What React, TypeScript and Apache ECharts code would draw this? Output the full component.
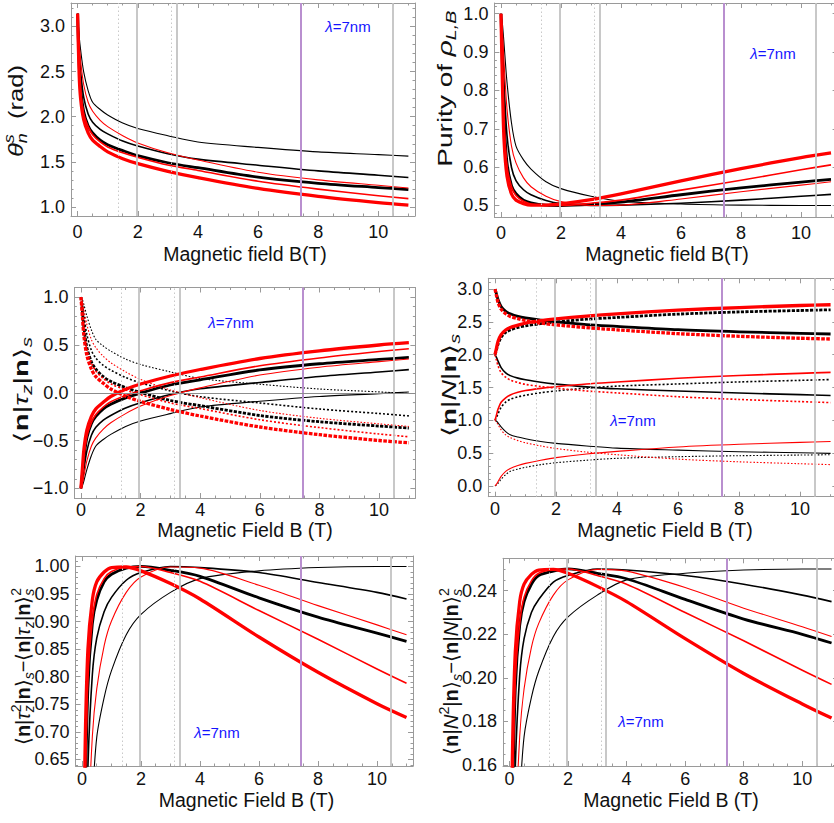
import React, { useEffect, useRef } from "react";
import * as echarts from "echarts";

// ---------------- data ----------------
const B_FIELD = [0, 0.05, 0.1, 0.2, 0.35, 0.5, 0.75, 1, 1.5, 2, 3, 4, 6, 8, 10, 11];

// panel 1 : theta_n^s (rad)
const thetaBlackThin = [3.142, 2.9, 2.74, 2.5, 2.29, 2.16, 2.08, 2.02, 1.93, 1.87, 1.79, 1.72, 1.66, 1.61, 1.58, 1.563];
const thetaBlackMid = [3.142, 2.72, 2.5, 2.22, 2.03, 1.94, 1.86, 1.81, 1.73, 1.675, 1.59, 1.53, 1.463, 1.4, 1.352, 1.326];
const thetaBlackThick = [3.142, 2.58, 2.32, 2.06, 1.9, 1.82, 1.74, 1.69, 1.625, 1.568, 1.49, 1.435, 1.33, 1.262, 1.215, 1.193];
const thetaRedThin = [3.142, 2.82, 2.62, 2.36, 2.16, 2.06, 1.96, 1.89, 1.79, 1.71, 1.6, 1.52, 1.385, 1.3, 1.24, 1.211];
const thetaRedMid = [3.142, 2.55, 2.29, 2.04, 1.89, 1.8, 1.72, 1.665, 1.6, 1.55, 1.465, 1.405, 1.285, 1.198, 1.125, 1.093];
const thetaRedThick = [3.142, 2.48, 2.2, 1.97, 1.82, 1.74, 1.67, 1.61, 1.535, 1.48, 1.395, 1.325, 1.205, 1.117, 1.048, 1.02];

// panel 2 : purity
const purBlackThin = [1.0, 0.971, 0.923, 0.821, 0.715, 0.655, 0.619, 0.595, 0.562, 0.544, 0.524, 0.511, 0.504, 0.501, 0.5, 0.5];
const purBlackMid = [1.0, 0.916, 0.821, 0.683, 0.599, 0.565, 0.541, 0.528, 0.513, 0.505, 0.5, 0.501, 0.506, 0.514, 0.524, 0.529];
const purBlackThick = [1.0, 0.858, 0.732, 0.611, 0.552, 0.531, 0.514, 0.507, 0.501, 0.5, 0.503, 0.509, 0.528, 0.546, 0.561, 0.568];
const purRedThin = [1.0, 0.95, 0.876, 0.752, 0.655, 0.611, 0.572, 0.549, 0.524, 0.51, 0.5, 0.501, 0.517, 0.536, 0.553, 0.562];
const purRedMid = [1.0, 0.844, 0.717, 0.603, 0.549, 0.526, 0.511, 0.504, 0.5, 0.5, 0.506, 0.514, 0.54, 0.566, 0.593, 0.606];
const purRedThick = [1.0, 0.811, 0.673, 0.576, 0.53, 0.514, 0.505, 0.501, 0.501, 0.504, 0.515, 0.53, 0.564, 0.596, 0.625, 0.637];

// panel 3 : <n|tau_z|n>_s  (solid rising, dotted falling)
const tzUpBlackThin = [-1, -0.971, -0.92, -0.801, -0.656, -0.557, -0.488, -0.435, -0.352, -0.295, -0.218, -0.149, -0.089, -0.039, -0.009, 0.008];
const tzUpBlackMid = [-1, -0.912, -0.801, -0.605, -0.444, -0.361, -0.286, -0.237, -0.159, -0.104, -0.019, 0.041, 0.107, 0.17, 0.217, 0.242];
const tzUpBlackThick = [-1, -0.846, -0.681, -0.471, -0.323, -0.247, -0.168, -0.119, -0.054, -0.003, 0.081, 0.135, 0.238, 0.303, 0.348, 0.369];
const tzUpRedThin = [-1, -0.949, -0.867, -0.71, -0.556, -0.471, -0.38, -0.314, -0.218, -0.139, -0.029, 0.051, 0.185, 0.267, 0.325, 0.352];
const tzUpRedMid = [-1, -0.83, -0.659, -0.453, -0.314, -0.227, -0.149, -0.094, -0.029, 0.021, 0.106, 0.165, 0.282, 0.364, 0.431, 0.46];
const tzUpRedThick = [-1, -0.789, -0.589, -0.389, -0.247, -0.168, -0.099, -0.039, 0.036, 0.091, 0.175, 0.243, 0.358, 0.438, 0.499, 0.523];
const tzDnBlackThin = [1, 0.971, 0.92, 0.801, 0.656, 0.557, 0.488, 0.435, 0.352, 0.295, 0.218, 0.149, 0.089, 0.039, 0.009, -0.008];
const tzDnBlackMid = [1, 0.912, 0.801, 0.605, 0.444, 0.361, 0.286, 0.237, 0.159, 0.104, 0.019, -0.041, -0.107, -0.17, -0.217, -0.242];
const tzDnBlackThick = [1, 0.846, 0.681, 0.471, 0.323, 0.247, 0.168, 0.119, 0.054, 0.003, -0.081, -0.135, -0.238, -0.303, -0.348, -0.369];
const tzDnRedThin = [1, 0.949, 0.867, 0.71, 0.556, 0.471, 0.38, 0.314, 0.218, 0.139, 0.029, -0.051, -0.185, -0.267, -0.325, -0.352];
const tzDnRedMid = [1, 0.83, 0.659, 0.453, 0.314, 0.227, 0.149, 0.094, 0.029, -0.021, -0.106, -0.165, -0.282, -0.364, -0.431, -0.46];
const tzDnRedThick = [1, 0.789, 0.589, 0.389, 0.247, 0.168, 0.099, 0.039, -0.036, -0.091, -0.175, -0.243, -0.358, -0.438, -0.499, -0.523];

// panel 4 : <n|N|n>_s
const nA_blackThick = [3.0, 2.923, 2.841, 2.736, 2.662, 2.624, 2.584, 2.56, 2.527, 2.502, 2.46, 2.433, 2.381, 2.349, 2.326, 2.316];
const nB_redThickDot = [3.0, 2.895, 2.795, 2.695, 2.624, 2.584, 2.55, 2.52, 2.482, 2.455, 2.413, 2.379, 2.321, 2.281, 2.251, 2.239];
const nC_redThick = [2.0, 2.106, 2.206, 2.306, 2.377, 2.416, 2.451, 2.481, 2.518, 2.546, 2.588, 2.622, 2.679, 2.719, 2.75, 2.762];
const nD_blackThickDot = [2.0, 2.077, 2.16, 2.265, 2.339, 2.377, 2.416, 2.441, 2.473, 2.499, 2.541, 2.568, 2.619, 2.652, 2.674, 2.685];
const nE_blackMid = [2.0, 1.956, 1.901, 1.803, 1.722, 1.681, 1.643, 1.619, 1.58, 1.552, 1.51, 1.48, 1.447, 1.415, 1.392, 1.379];
const nF_redMidDot = [2.0, 1.915, 1.83, 1.727, 1.657, 1.614, 1.575, 1.547, 1.515, 1.49, 1.447, 1.418, 1.359, 1.318, 1.285, 1.27];
const nG_redMid = [1.0, 1.085, 1.171, 1.274, 1.343, 1.387, 1.426, 1.453, 1.486, 1.511, 1.553, 1.583, 1.641, 1.682, 1.716, 1.73];
const nH_blackMidDot = [1.0, 1.044, 1.1, 1.198, 1.278, 1.32, 1.357, 1.382, 1.421, 1.448, 1.491, 1.521, 1.554, 1.585, 1.609, 1.621];
const nI_blackThin = [1.0, 0.986, 0.96, 0.901, 0.828, 0.779, 0.744, 0.718, 0.676, 0.648, 0.609, 0.575, 0.545, 0.52, 0.505, 0.496];
const nJ_redThinDot = [1.0, 0.975, 0.934, 0.855, 0.778, 0.736, 0.69, 0.657, 0.609, 0.57, 0.515, 0.475, 0.408, 0.367, 0.338, 0.324];
const nK_redThin = [0, 0.026, 0.067, 0.145, 0.222, 0.265, 0.31, 0.343, 0.391, 0.431, 0.486, 0.526, 0.593, 0.634, 0.663, 0.676];
const nL_blackThinDot = [0, 0.015, 0.04, 0.1, 0.172, 0.222, 0.256, 0.283, 0.324, 0.353, 0.391, 0.42, 0.445, 0.46, 0.47, 0.475];

// panel 5 : variance of tau_z
const vtBlackThin = [0, 0.057, 0.154, 0.358, 0.57, 0.69, 0.762, 0.811, 0.876, 0.913, 0.953, 0.978, 0.992, 0.998, 1.0, 1.0];
const vtBlackMid = [0, 0.168, 0.358, 0.634, 0.803, 0.87, 0.918, 0.944, 0.975, 0.989, 1.0, 0.998, 0.989, 0.971, 0.953, 0.941];
const vtBlackThick = [0, 0.284, 0.536, 0.778, 0.896, 0.939, 0.972, 0.986, 0.997, 1.0, 0.993, 0.982, 0.943, 0.908, 0.879, 0.864];
const vtRedThin = [0, 0.099, 0.248, 0.496, 0.691, 0.778, 0.856, 0.901, 0.953, 0.981, 0.999, 0.997, 0.966, 0.929, 0.894, 0.876];
const vtRedMid = [0, 0.311, 0.566, 0.795, 0.901, 0.949, 0.978, 0.991, 0.999, 1.0, 0.989, 0.973, 0.92, 0.868, 0.814, 0.788];
const vtRedThick = [0, 0.377, 0.653, 0.849, 0.939, 0.972, 0.99, 0.998, 0.999, 0.992, 0.969, 0.941, 0.872, 0.808, 0.751, 0.726];

// panel 6 : variance of N
const vnBlackThin = [0, 0.014, 0.039, 0.09, 0.143, 0.173, 0.191, 0.203, 0.219, 0.228, 0.238, 0.245, 0.248, 0.2495, 0.25, 0.25];
const vnBlackMid = [0, 0.042, 0.09, 0.159, 0.201, 0.218, 0.23, 0.236, 0.244, 0.247, 0.25, 0.2495, 0.247, 0.243, 0.238, 0.235];
const vnBlackThick = [0, 0.071, 0.134, 0.195, 0.224, 0.235, 0.243, 0.247, 0.249, 0.25, 0.248, 0.2455, 0.236, 0.227, 0.22, 0.216];
const vnRedThin = [0, 0.025, 0.062, 0.124, 0.173, 0.195, 0.214, 0.225, 0.238, 0.245, 0.2498, 0.249, 0.2415, 0.232, 0.2235, 0.219];
const vnRedMid = [0, 0.078, 0.142, 0.199, 0.225, 0.237, 0.2445, 0.248, 0.2498, 0.25, 0.247, 0.243, 0.23, 0.217, 0.2035, 0.197];
const vnRedThick = [0, 0.094, 0.163, 0.212, 0.235, 0.243, 0.2475, 0.2495, 0.2498, 0.248, 0.242, 0.235, 0.218, 0.202, 0.188, 0.1815];

// ticks and reference lines
const X_TICKS = [0, 2, 4, 6, 8, 10];
const Y1_TICKS = [1.0, 1.5, 2.0, 2.5, 3.0];
const Y2_TICKS = [0.5, 0.6, 0.7, 0.8, 0.9, 1.0];
const Y3_TICKS = [-1.0, -0.5, 0, 0.5, 1.0];
const Y4_TICKS = [0, 0.5, 1.0, 1.5, 2.0, 2.5, 3.0];
const Y5_TICKS = [0.65, 0.7, 0.75, 0.8, 0.85, 0.9, 0.95, 1.0];
const Y6_TICKS = [0.16, 0.18, 0.2, 0.22, 0.24];
const MARK_DOTTED = [1.35, 3.12];
const MARK_GRAY = [1.95, 3.3, 10.48];
const MARK_PURPLE = [7.43];

const X_TITLE_1 = "Magnetic field B(T)";
const X_TITLE_2 = "Magnetic Field B (T)";
const LAMBDA = "=7nm";

// ---------------- styles ----------------
const FF = '"Liberation Sans", Arial, Helvetica, sans-serif';
const TXT = "#111111";
const FRAME = "#9a9a9a";
const BLUE = "#1414ff";

const seq = (a: number, b: number, div: number) => {
  const out: number[] = [];
  for (let k = a; k <= b; k++) out.push(k / div);
  return out;
};
const X_MINOR = seq(0, 22, 2);

const STY: Record<string, { color: string; width: number }> = {
  bt: { color: "#000000", width: 1.1 },
  bm: { color: "#000000", width: 1.6 },
  bT: { color: "#000000", width: 2.8 },
  rt: { color: "#ff0000", width: 1.1 },
  rm: { color: "#ff0000", width: 1.6 },
  rT: { color: "#ff0000", width: 3.3 },
};
const DASH: Record<string, number[]> = {
  bt: [1.6, 1.8], rt: [1.6, 1.8], bm: [2, 2], rm: [2, 2], bT: [3.2, 1.4], rT: [3.6, 1.4],
};

const PANELS = [
  { grid: { left: 71, top: 3, width: 344, height: 213 }, y: [0.9, 3.26], ticks: Y1_TICKS, minor: seq(9, 32, 10), dec: 1, xm: 7, xt: X_TITLE_1, xtPos: [245, 254], lam: [348, 26] },
  { grid: { left: 494.4, top: 3, width: 343.2, height: 214 }, y: [0.47, 1.028], ticks: Y2_TICKS, minor: seq(24, 51, 50), dec: 1, xm: 7, xt: X_TITLE_1, xtPos: [667, 254], lam: [773, 53] },
  { grid: { left: 74.4, top: 287.5, width: 341, height: 210.5 }, y: [-1.1, 1.1], ticks: Y3_TICKS, minor: seq(-11, 11, 10), dec: 1, xm: 3, xt: X_TITLE_2, xtPos: [245, 530], lam: [231, 322] },
  { grid: { left: 488.3, top: 278.3, width: 349, height: 218.4 }, y: [-0.165, 3.165], ticks: Y4_TICKS, minor: seq(-1, 31, 10), dec: 1, xm: 3, xt: X_TITLE_2, xtPos: [665, 530], lam: [633, 420] },
  { grid: { left: 75.5, top: 556, width: 337.5, height: 210 }, y: [0.638, 1.019], ticks: Y5_TICKS, minor: seq(64, 101, 100), dec: 2, xm: 4, xt: X_TITLE_2, xtPos: [246.5, 800], lam: [217, 732] },
  { grid: { left: 503, top: 558.3, width: 335, height: 207.7 }, y: [0.1595, 0.2549], ticks: Y6_TICKS, minor: seq(32, 50, 200), dec: 2, xm: 4, xt: X_TITLE_2, xtPos: [671, 800], lam: [641, 721] },
];

// y-axis titles: tokens [style, text, flag]; flag "k" stacks the token above the previous one
const TSTY: Record<string, { size: number; style: string; weight: string; dy: number }> = {
  m: { size: 20, style: "normal", weight: "normal", dy: 0 },
  b: { size: 20, style: "normal", weight: "bold", dy: 0 },
  i: { size: 20, style: "italic", weight: "normal", dy: 0 },
  sub: { size: 14, style: "italic", weight: "normal", dy: 6 },
  sup: { size: 14, style: "italic", weight: "normal", dy: -7 },
  supn: { size: 14, style: "normal", weight: "normal", dy: -7 },
};
type Tok = [string, string, string?];
const braTz: Tok[] = [["m", "⟨"], ["b", "n"], ["m", "|"], ["i", "τ"], ["sub", "z"], ["m", "|"], ["b", "n"], ["m", "⟩"]];
const braTz2: Tok[] = [["m", "⟨"], ["b", "n"], ["m", "|"], ["i", "τ"], ["sub", "z"], ["supn", "2", "k"], ["m", "|"], ["b", "n"], ["m", "⟩"]];
const braN: Tok[] = [["m", "⟨"], ["b", "n"], ["m", "|"], ["i", "N"], ["m", "|"], ["b", "n"], ["m", "⟩"]];
const braN2: Tok[] = [["m", "⟨"], ["b", "n"], ["m", "|"], ["i", "N"], ["supn", "2"], ["m", "|"], ["b", "n"], ["m", "⟩"]];

const Y_TITLES: { cx: number; y0: number; len: number; toks: Tok[] }[] = [
  { cx: 16, y0: 157, len: 92, toks: [["i", "θ"], ["sub", "n"], ["sup", "s", "k"], ["m", "  (rad)"]] },
  { cx: 445, y0: 166.7, len: 156, toks: [["m", "Purity of "], ["i", "ρ"], ["sub", "L,B"]] },
  { cx: 21, y0: 443, len: 106, toks: [...braTz, ["sub", "s"]] },
  { cx: 449.5, y0: 436.7, len: 103, toks: [...braN, ["sub", "s"]] },
  { cx: 22.5, y0: 745, len: 157, toks: [...braTz2, ["sub", "s"], ["m", "−"], ...braTz, ["sub", "s"], ["supn", "2", "k"]] },
  { cx: 450.8, y0: 755, len: 167, toks: [...braN2, ["sub", "s"], ["m", "−"], ...braN, ["sub", "s"], ["supn", "2", "k"]] },
];

function layoutTitle(toks: Tok[]) {
  const ctx = document.createElement("canvas").getContext("2d");
  let x = 0;
  let prevX = 0;
  let prevW = 0;
  const els: any[] = [];
  for (const [s, t, f] of toks) {
    const st = TSTY[s];
    let w = t.length * st.size * 0.55;
    if (ctx) {
      ctx.font = `${st.style} ${st.weight} ${st.size}px ${FF}`;
      w = ctx.measureText(t).width;
    }
    let px: number;
    if (f === "k") {
      px = prevX;
      x = Math.max(prevX + prevW, prevX + w);
    } else {
      px = x;
      x += w;
      prevX = px;
      prevW = w;
    }
    els.push({
      type: "text", x: px, y: st.dy, silent: true,
      style: {
        text: t, fontSize: st.size, fontFamily: FF, fontStyle: st.style, fontWeight: st.weight, fill: TXT,
        align: "left", verticalAlign: "middle", textAlign: "left", textVerticalAlign: "middle",
      },
    });
  }
  return { els, width: x };
}

function xAxesFor(gi: number) {
  const p = PANELS[gi];
  const base = { gridIndex: gi, type: "value", min: -0.22, max: 11.22, splitLine: { show: false }, axisPointer: { show: false } };
  const line = { show: true, onZero: false, lineStyle: { color: FRAME, width: 1 } };
  const noLine = { show: false, onZero: false };
  const major = { show: true, inside: true, length: 5, customValues: X_TICKS, lineStyle: { color: FRAME, width: 1 } };
  const minor = { show: true, inside: true, length: 2.5, customValues: X_MINOR, lineStyle: { color: FRAME, width: 1 } };
  return [
    { ...base, position: "bottom", axisLine: line, axisTick: major, axisLabel: { show: true, customValues: X_TICKS, margin: p.xm, fontSize: 18, color: TXT, fontFamily: FF } },
    { ...base, position: "bottom", axisLine: noLine, axisTick: minor, axisLabel: { show: false } },
    { ...base, position: "top", axisLine: line, axisTick: major, axisLabel: { show: false } },
    { ...base, position: "top", axisLine: noLine, axisTick: minor, axisLabel: { show: false } },
  ];
}

function yAxesFor(gi: number) {
  const p = PANELS[gi];
  const base = { gridIndex: gi, type: "value", min: p.y[0], max: p.y[1], splitLine: { show: false }, axisPointer: { show: false } };
  const line = { show: true, onZero: false, lineStyle: { color: FRAME, width: 1 } };
  const noLine = { show: false, onZero: false };
  const major = { show: true, inside: true, length: 5, customValues: p.ticks, lineStyle: { color: FRAME, width: 1 } };
  const minor = { show: true, inside: true, length: 2.5, customValues: p.minor, lineStyle: { color: FRAME, width: 1 } };
  const fmt = (v: number) => v.toFixed(p.dec).replace("-", "−");
  return [
    { ...base, position: "left", axisLine: line, axisTick: major, axisLabel: { show: true, customValues: p.ticks, margin: 6, fontSize: 18, color: TXT, fontFamily: FF, formatter: fmt } },
    { ...base, position: "left", axisLine: noLine, axisTick: minor, axisLabel: { show: false } },
    { ...base, position: "right", axisLine: line, axisTick: major, axisLabel: { show: false } },
    { ...base, position: "right", axisLine: noLine, axisTick: minor, axisLabel: { show: false } },
  ];
}

function curve(gi: number, ys: number[], key: string, dotted = false) {
  const s = STY[key];
  return {
    type: "line",
    xAxisIndex: gi * 4,
    yAxisIndex: gi * 4,
    data: B_FIELD.map((x, i) => [x, ys[i]]),
    showSymbol: false,
    symbol: "none",
    smooth: 0.3,
    clip: true,
    silent: true,
    z: 3,
    emphasis: { disabled: true },
    lineStyle: { color: s.color, width: s.width, type: dotted ? DASH[key] : "solid", cap: "butt", join: "round" },
  };
}

function refLines(gi: number) {
  const data: any[] = [
    ...MARK_DOTTED.map((x) => ({ xAxis: x, lineStyle: { color: "#c9c9c9", width: 1, type: [1.5, 2.5] } })),
    ...MARK_GRAY.map((x) => ({ xAxis: x, lineStyle: { color: "#c2c2c2", width: 1.8, type: "solid" } })),
    ...MARK_PURPLE.map((x) => ({ xAxis: x, lineStyle: { color: "#b98fcf", width: 2, type: "solid" } })),
  ];
  if (gi === 2) data.push({ yAxis: 0, lineStyle: { color: "#8c8c8c", width: 1.2, type: "solid" } });
  return {
    type: "line",
    xAxisIndex: gi * 4,
    yAxisIndex: gi * 4,
    data: [],
    silent: true,
    z: 1,
    markLine: { silent: true, symbol: ["none", "none"], label: { show: false }, emphasis: { disabled: true }, animation: false, data },
  };
}

export default function App() {
  const ref = useRef<HTMLDivElement>(null);
  useEffect(() => {
    if (!ref.current) return;
    const chart = echarts.init(ref.current, null, { renderer: "svg", width: 850, height: 823 });

    const series: any[] = [];
    for (let gi = 0; gi < 6; gi++) series.push(refLines(gi));
    series.push(curve(0, thetaBlackThin, "bt"), curve(0, thetaBlackMid, "bm"), curve(0, thetaBlackThick, "bT"));
    series.push(curve(0, thetaRedThin, "rt"), curve(0, thetaRedMid, "rm"), curve(0, thetaRedThick, "rT"));
    series.push(curve(1, purBlackThin, "bt"), curve(1, purBlackMid, "bm"), curve(1, purBlackThick, "bT"));
    series.push(curve(1, purRedThin, "rt"), curve(1, purRedMid, "rm"), curve(1, purRedThick, "rT"));
    series.push(curve(2, tzUpBlackThin, "bt"), curve(2, tzUpBlackMid, "bm"), curve(2, tzUpBlackThick, "bT"));
    series.push(curve(2, tzDnBlackThin, "bt", true), curve(2, tzDnBlackMid, "bm", true), curve(2, tzDnBlackThick, "bT", true));
    series.push(curve(2, tzUpRedThin, "rt"), curve(2, tzUpRedMid, "rm"), curve(2, tzUpRedThick, "rT"));
    series.push(curve(2, tzDnRedThin, "rt", true), curve(2, tzDnRedMid, "rm", true), curve(2, tzDnRedThick, "rT", true));
    series.push(curve(3, nA_blackThick, "bT"), curve(3, nD_blackThickDot, "bT", true));
    series.push(curve(3, nE_blackMid, "bm"), curve(3, nH_blackMidDot, "bm", true));
    series.push(curve(3, nI_blackThin, "bt"), curve(3, nL_blackThinDot, "bt", true));
    series.push(curve(3, nC_redThick, "rT"), curve(3, nB_redThickDot, "rT", true));
    series.push(curve(3, nG_redMid, "rm"), curve(3, nF_redMidDot, "rm", true));
    series.push(curve(3, nK_redThin, "rt"), curve(3, nJ_redThinDot, "rt", true));
    series.push(curve(4, vtBlackThin, "bt"), curve(4, vtBlackMid, "bm"), curve(4, vtBlackThick, "bT"));
    series.push(curve(4, vtRedThin, "rt"), curve(4, vtRedMid, "rm"), curve(4, vtRedThick, "rT"));
    series.push(curve(5, vnBlackThin, "bt"), curve(5, vnBlackMid, "bm"), curve(5, vnBlackThick, "bT"));
    series.push(curve(5, vnRedThin, "rt"), curve(5, vnRedMid, "rm"), curve(5, vnRedThick, "rT"));

    const graphic: any[] = [];
    PANELS.forEach((p) => {
      graphic.push({
        type: "text", x: p.xtPos[0], y: p.xtPos[1], silent: true,
        style: { text: p.xt, fontSize: 19.5, fontFamily: FF, fill: TXT, align: "center", verticalAlign: "middle", textAlign: "center", textVerticalAlign: "middle" },
      });
      graphic.push({
        type: "text", x: p.lam[0], y: p.lam[1], silent: true,
        style: {
          text: `{l|λ}{t|${LAMBDA}}`,
          rich: { l: { fontSize: 15, fontFamily: FF, fontStyle: "italic", fill: BLUE }, t: { fontSize: 15, fontFamily: FF, fill: BLUE } },
          align: "center", verticalAlign: "middle", textAlign: "center", textVerticalAlign: "middle",
        },
      });
    });
    Y_TITLES.forEach((t) => {
      const { els, width } = layoutTitle(t.toks);
      graphic.push({
        type: "group", x: t.cx, y: t.y0, rotation: Math.PI / 2, scaleX: t.len / width, silent: true,
        children: els,
      });
    });

    chart.setOption({
      animation: false,
      backgroundColor: "#ffffff",
      grid: PANELS.map((p) => ({ ...p.grid, containLabel: false })),
      xAxis: PANELS.flatMap((_, gi) => xAxesFor(gi)),
      yAxis: PANELS.flatMap((_, gi) => yAxesFor(gi)),
      series,
      graphic,
    });
    return () => chart.dispose();
  }, []);

  return (
    <div style={{ position: "absolute", left: 0, top: 0, width: 834, height: 823, overflow: "hidden", background: "#fff" }}>
      <div ref={ref} style={{ width: 850, height: 823 }} />
    </div>
  );
}
